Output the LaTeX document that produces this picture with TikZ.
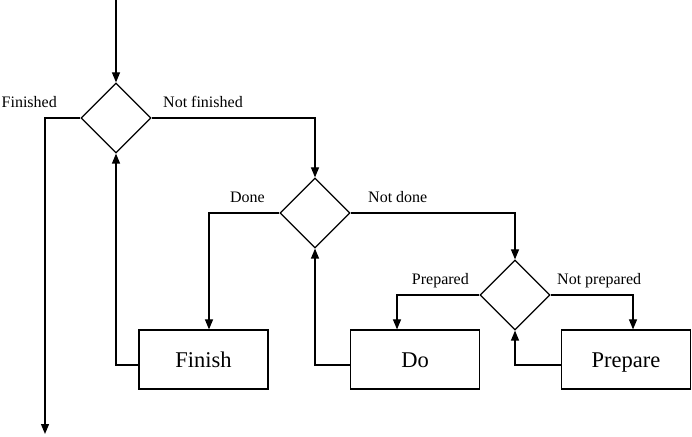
\documentclass[tikz,border=0pt]{standalone}
\usepackage{fontspec}
\setmainfont{Liberation Serif}
\usetikzlibrary{shapes.geometric,arrows.meta}

\begin{document}
\begin{tikzpicture}[
    x=1pt,y=1pt,
    line width=1.2pt,
    test/.style={draw,diamond,inner sep=0pt,minimum width=70pt,minimum height=70pt},
    task/.style={draw,minimum width=129pt,minimum height=59pt,text height=15pt,text depth=0pt,
      font=\fontsize{22.5}{26}\selectfont},
    lbl/.style={inner sep=0pt,font=\fontsize{16}{18}\selectfont},
    arrow/.style={-{Triangle[length=10pt,width=8pt]}}
  ]
    \useasboundingbox (0,0) rectangle (692,436);

    % Decisions
    \node[test] (d1) at (116,318) {};
    \node[test] (d2) at (315,223) {};
    \node[test] (d3) at (515,141) {};

    % Tasks
    \node[task] (fin) at (203.5,76.5) {Finish};
    \node[task] (do)  at (415,76.5)   {Do};
    \node[task] (prep) at (626,76.5)  {Prepare};

    % Ends
    \coordinate (start) at (116,436);
    \coordinate (stop)  at (45,2);

    % Labels
    \node[lbl,anchor=base east] (lfin)   at ([shift={(-23pt,10pt)}]d1.west) {Finished};
    \node[lbl,anchor=base west] (lnfin)  at ([shift={(11pt,10pt)}]d1.east)  {Not finished};
    \node[lbl,anchor=base east] (ldone)  at ([shift={(-14pt,10pt)}]d2.west) {Done};
    \node[lbl,anchor=base west] (lndone) at ([shift={(17pt,10pt)}]d2.east)  {Not done};
    \node[lbl,anchor=base east] (lprep)  at ([shift={(-10pt,10pt)}]d3.west) {Prepared};
    \node[lbl,anchor=base west] (lnprep) at ([shift={(6pt,10pt)}]d3.east)   {Not prepared};

    % Arrows
    \draw[arrow] (start) -- (d1.north);
    \draw[arrow] (d1.west) -| (stop);
    \draw[arrow] (d1.east) -| (d2.north);
    \draw[arrow] (d2.west) -| ([xshift=5.5pt]fin.north);
    \draw[arrow] (d2.east) -| (d3.north);
    \draw[arrow] (d3.west) -| ([xshift=-18pt]do.north);
    \draw[arrow] (d3.east) -| ([xshift=7pt]prep.north);
    \draw[arrow] ([yshift=-5.5pt]fin.west) -| (d1.south);
    \draw[arrow] ([yshift=-5.5pt]do.west) -| (d2.south);
    \draw[arrow] ([yshift=-5.5pt]prep.west) -| (d3.south);
  \end{tikzpicture}
\end{document}
